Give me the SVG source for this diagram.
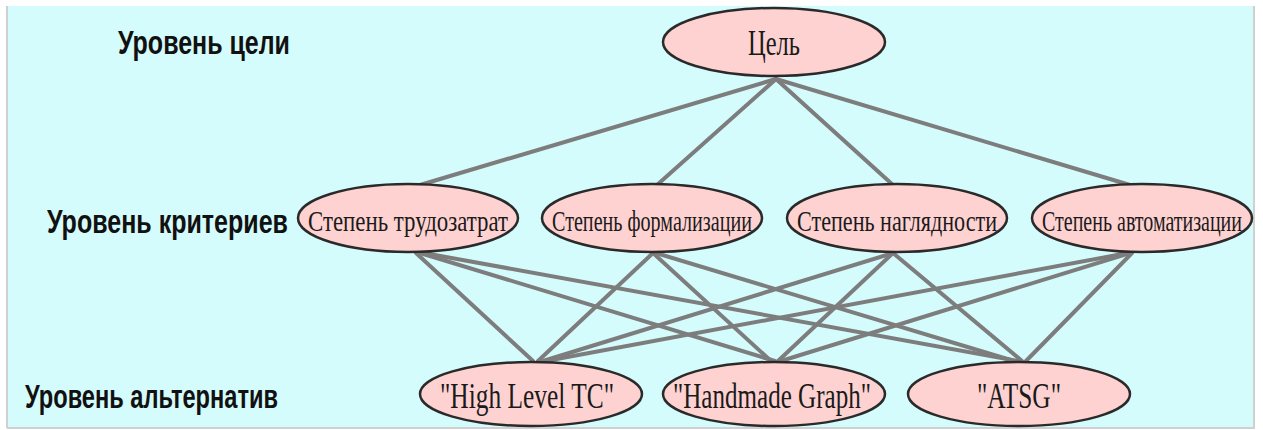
<svg xmlns="http://www.w3.org/2000/svg" width="1263" height="430" viewBox="0 0 1263 430">
<style>
.lvl{font-family:"Liberation Sans",Arial,sans-serif;font-weight:bold;font-size:22px;fill:#111}
.node ellipse{fill:#ffd2d2;stroke:#2a2a2a;stroke-width:2.5}
.node text{font-family:"Liberation Serif","Times New Roman",serif;fill:#1a1a1a;text-anchor:middle}
.crit{font-size:20px}
.big{font-size:36px}
#edges line{stroke:#7d7d7d;stroke-width:4;stroke-linecap:round}
</style>
<rect x="0" y="0" width="1263" height="430" fill="#ffffff"/>
<rect x="8" y="6" width="1245" height="421" fill="#d5fcfc"/>
<line x1="7" y1="6" x2="7" y2="428" stroke="#d0d0d0" stroke-width="2"/>
<line x1="1254" y1="6" x2="1254" y2="428" stroke="#d0d0d0" stroke-width="2"/>
<line x1="7" y1="428" x2="1255" y2="428" stroke="#d0d0d0" stroke-width="2"/>

<g id="labels">
<text class="lvl" transform="translate(118 54) scale(1 1.5)" x="0" y="0" textLength="172" lengthAdjust="spacingAndGlyphs">Уровень цели</text>
<text class="lvl" transform="translate(47 233) scale(1 1.5)" x="0" y="0" textLength="241" lengthAdjust="spacingAndGlyphs">Уровень критериев</text>
<text class="lvl" transform="translate(25 408) scale(1 1.5)" x="0" y="0" textLength="253" lengthAdjust="spacingAndGlyphs">Уровень альтернатив</text>
</g>

<g id="edges">
<line x1="776" y1="79" x2="420" y2="185"/>
<line x1="776" y1="79" x2="657" y2="185"/>
<line x1="776" y1="79" x2="893" y2="185"/>
<line x1="776" y1="79" x2="1130" y2="185"/>
<line x1="416" y1="253" x2="533" y2="361"/>
<line x1="420" y1="253" x2="775" y2="361"/>
<line x1="424" y1="253" x2="1018" y2="361"/>
<line x1="653" y1="253" x2="538" y2="361"/>
<line x1="653" y1="253" x2="771" y2="361"/>
<line x1="656" y1="253" x2="1014" y2="361"/>
<line x1="893" y1="253" x2="543" y2="361"/>
<line x1="893" y1="253" x2="778" y2="361"/>
<line x1="893" y1="253" x2="1022" y2="361"/>
<line x1="1128" y1="253" x2="546" y2="361"/>
<line x1="1130" y1="253" x2="781" y2="361"/>
<line x1="1132" y1="253" x2="1026" y2="361"/>
</g>

<g id="goal" class="node">
<ellipse cx="774" cy="42" rx="111" ry="34"/>
<text class="big" x="774" y="55" textLength="52" lengthAdjust="spacingAndGlyphs">Цель</text>
</g>

<g id="crit1" class="node">
<ellipse cx="408" cy="218" rx="110" ry="34"/>
<text class="crit" transform="translate(408 231) scale(1 1.45)" x="0" y="0" textLength="200" lengthAdjust="spacingAndGlyphs">Степень трудозатрат</text>
</g>
<g id="crit2" class="node">
<ellipse cx="652" cy="218" rx="110" ry="34"/>
<text class="crit" transform="translate(652 231) scale(1 1.45)" x="0" y="0" textLength="200" lengthAdjust="spacingAndGlyphs">Степень формализации</text>
</g>
<g id="crit3" class="node">
<ellipse cx="897" cy="218" rx="110" ry="34"/>
<text class="crit" transform="translate(897 231) scale(1 1.45)" x="0" y="0" textLength="200" lengthAdjust="spacingAndGlyphs">Степень наглядности</text>
</g>
<g id="crit4" class="node">
<ellipse cx="1142" cy="218" rx="110" ry="34"/>
<text class="crit" transform="translate(1142 231) scale(1 1.45)" x="0" y="0" textLength="200" lengthAdjust="spacingAndGlyphs">Степень автоматизации</text>
</g>

<g id="alt1" class="node">
<ellipse cx="531" cy="394" rx="111" ry="32"/>
<text class="big" x="527" y="408" textLength="174" lengthAdjust="spacingAndGlyphs">"High Level TC"</text>
</g>
<g id="alt2" class="node">
<ellipse cx="774" cy="394" rx="111" ry="32"/>
<text class="big" x="772" y="408" textLength="198" lengthAdjust="spacingAndGlyphs">"Handmade Graph"</text>
</g>
<g id="alt3" class="node">
<ellipse cx="1019" cy="394" rx="111" ry="32"/>
<text class="big" x="1019" y="408" textLength="84" lengthAdjust="spacingAndGlyphs">"ATSG"</text>
</g>
</svg>
